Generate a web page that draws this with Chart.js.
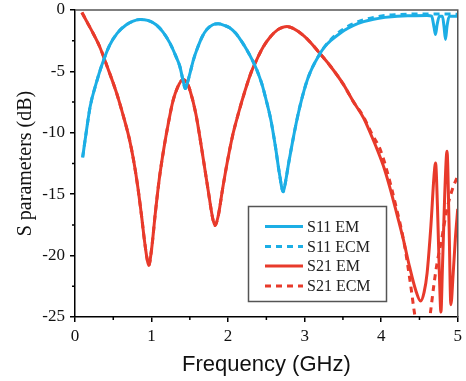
<!DOCTYPE html>
<html>
<head>
<meta charset="utf-8">
<script src="https://cdn.jsdelivr.net/npm/chart.js@4.4.1/dist/chart.umd.min.js"></script>
<style>
  body { margin: 0; background: #fff; }
  canvas { display: block; }
</style>
</head>
<body>
<canvas id="sChart" width="466" height="381"></canvas>
<script>
// Frequency (GHz) and S parameters (dB)
const s11Freq = [0.10, 0.15, 0.20, 0.28, 0.35, 0.45, 0.55, 0.67, 0.76, 0.85, 0.95, 1.06, 1.15, 1.24, 1.32, 1.37, 1.41, 1.44, 1.47, 1.50, 1.55, 1.60, 1.66, 1.72, 1.80, 1.87, 1.95, 2.02, 2.10, 2.17, 2.24, 2.31, 2.37, 2.44, 2.50, 2.56, 2.62, 2.67, 2.72, 2.75, 2.79, 2.84, 2.89, 2.94, 2.99, 3.04, 3.10, 3.18, 3.26, 3.34, 3.42, 3.52, 3.64, 3.77, 3.90, 4.05, 4.21, 4.40, 4.60, 4.66, 4.69, 4.71, 4.73, 4.76, 4.80, 4.82, 4.84, 4.86, 4.89, 5.00];
const s11Em = [-12.0, -9.8, -7.8, -5.9, -4.5, -2.9, -1.9, -1.2, -0.9, -0.77, -0.85, -1.2, -1.8, -2.7, -3.8, -4.6, -5.7, -6.4, -5.9, -5.2, -4.0, -3.1, -2.2, -1.6, -1.2, -1.12, -1.25, -1.45, -1.9, -2.5, -3.2, -4.0, -4.8, -6.0, -7.4, -9.0, -11.2, -13.3, -14.8, -14.0, -12.5, -10.8, -9.2, -7.8, -6.6, -5.6, -4.7, -3.76, -3.0, -2.5, -2.1, -1.65, -1.25, -0.95, -0.75, -0.6, -0.5, -0.47, -0.45, -0.5, -1.4, -2.0, -1.2, -0.5, -0.5, -1.3, -2.4, -1.3, -0.5, -0.5];
// ECM follows EM below 3.3 GHz, then this tail
const s11EcmFreq = [3.42, 3.52, 3.64, 3.77, 3.90, 4.05, 4.21, 4.40, 4.60, 4.80, 5.00];
const s11Ecm = [-1.95, -1.5, -1.1, -0.8, -0.6, -0.45, -0.38, -0.33, -0.32, -0.32, -0.35];

const s21Freq = [0.09, 0.15, 0.22, 0.32, 0.42, 0.54, 0.63, 0.71, 0.77, 0.82, 0.87, 0.91, 0.94, 0.963, 1.00, 1.05, 1.10, 1.16, 1.22, 1.28, 1.34, 1.41, 1.46, 1.50, 1.58, 1.66, 1.74, 1.80, 1.83, 1.87, 1.93, 1.98, 2.06, 2.14, 2.22, 2.30, 2.37, 2.46, 2.55, 2.65, 2.72, 2.77, 2.85, 2.99, 3.10, 3.18, 3.34, 3.50, 3.64, 3.77, 3.87, 3.95, 4.04, 4.12, 4.20, 4.29, 4.37, 4.45, 4.515, 4.56, 4.60, 4.65, 4.69, 4.71, 4.735, 4.76, 4.78, 4.80, 4.83, 4.86, 4.885, 4.91, 4.94, 4.97, 5.00];
const s21Em = [-0.2, -0.9, -1.7, -2.95, -4.6, -6.7, -8.6, -10.5, -12.4, -14.4, -16.8, -18.9, -20.2, -20.8, -19.5, -16.5, -13.8, -11.3, -9.2, -7.4, -6.3, -5.66, -5.9, -6.5, -8.5, -11.5, -14.7, -17.0, -17.55, -16.8, -14.5, -12.7, -10.2, -8.3, -6.6, -5.1, -4.1, -3.0, -2.2, -1.6, -1.4, -1.35, -1.5, -2.1, -2.8, -3.4, -4.6, -6.0, -7.5, -8.8, -10.2, -11.4, -12.9, -14.6, -16.5, -18.7, -20.9, -22.8, -23.7, -23.0, -21.4, -17.5, -13.5, -12.45, -16.0, -21.5, -24.6, -21.0, -15.0, -11.5, -17.0, -24.0, -21.5, -18.5, -16.2];
// ECM follows EM below 3.7 GHz, then this tail
const s21EcmFreq = [3.77, 3.87, 3.99, 4.08, 4.17, 4.30, 4.38, 4.44, 4.50, 4.56, 4.60, 4.64, 4.69, 4.73, 4.78, 4.86, 4.93, 5.00];
const s21Ecm = [-8.7, -10.0, -11.4, -13.2, -15.4, -19.0, -22.2, -24.9, -27.0, -27.5, -26.5, -24.8, -22.3, -20.6, -19.0, -16.2, -14.6, -13.5];

const xTicks = [0, 1, 2, 3, 4, 5];
const yTicks = [-25, -20, -15, -10, -5, 0];

const BLUE = "#1caee5";
const RED = "#e83a2b";

function toPoints(freq, vals) {
    return freq.map((f, i) => ({ x: f, y: vals[i] }));
}

function withTail(freq, vals, tailFreq, tailVals) {
    const start = tailFreq[0];
    const head = toPoints(freq, vals).filter(p => p.x < start - 0.1);
    return head.concat(toPoints(tailFreq, tailVals));
}

const s11EmPts = toPoints(s11Freq, s11Em);
const s11EcmPts = withTail(s11Freq, s11Em, s11EcmFreq, s11Ecm);
const s21EmPts = toPoints(s21Freq, s21Em);
const s21EcmPts = withTail(s21Freq, s21Em, s21EcmFreq, s21Ecm);

// frame, minor ticks and inset legend
const decorPlugin = {
    id: "decor",
    afterDatasetsDraw(chart) {
        const ctx = chart.ctx;
        const area = chart.chartArea;
        const xs = chart.scales.x;
        const ys = chart.scales.y;
        ctx.save();

        // top and right frame
        ctx.strokeStyle = "#555";
        ctx.lineWidth = 1.5;
        ctx.beginPath();
        ctx.moveTo(area.left, area.top);
        ctx.lineTo(area.right, area.top);
        ctx.lineTo(area.right, area.bottom);
        ctx.stroke();

        // minor ticks
        ctx.strokeStyle = "#000";
        ctx.lineWidth = 1.5;
        ctx.beginPath();
        for (let i = 0; i < xTicks.length - 1; i++) {
            const px = xs.getPixelForValue((xTicks[i] + xTicks[i + 1]) / 2);
            ctx.moveTo(px, area.bottom);
            ctx.lineTo(px, area.bottom + 3);
        }
        for (let i = 0; i < yTicks.length - 1; i++) {
            const py = ys.getPixelForValue((yTicks[i] + yTicks[i + 1]) / 2);
            ctx.moveTo(area.left, py);
            ctx.lineTo(area.left - 3, py);
        }
        ctx.stroke();

        // legend
        const box = { left: 248.5, top: 206.5, right: 386.5, bottom: 301.5 };
        ctx.fillStyle = "#fff";
        ctx.fillRect(box.left, box.top, box.right - box.left, box.bottom - box.top);
        ctx.strokeStyle = "#555";
        ctx.lineWidth = 1.5;
        ctx.strokeRect(box.left, box.top, box.right - box.left, box.bottom - box.top);

        const rows = [226.5, 246.5, 266, 286];
        ctx.font = "16px 'Liberation Serif'";
        ctx.textBaseline = "middle";
        ctx.textAlign = "left";
        chart.data.datasets.forEach((ds, i) => {
            const y = rows[i];
            ctx.strokeStyle = ds.borderColor;
            ctx.lineWidth = 3;
            ctx.setLineDash(ds.borderDash || []);
            ctx.beginPath();
            ctx.moveTo(265, y);
            ctx.lineTo(303, y);
            ctx.stroke();
            ctx.setLineDash([]);
            ctx.fillStyle = "#222";
            ctx.fillText(ds.label, 307, y + 1);
        });
        ctx.restore();
    }
};

const ctx = document.getElementById("sChart").getContext("2d");
new Chart(ctx, {
    type: "line",
    data: {
        datasets: [
            { label: "S11 EM", data: s11EmPts, borderColor: BLUE, borderWidth: 3 },
            { label: "S11 ECM", data: s11EcmPts, borderColor: BLUE, borderWidth: 3, borderDash: [6, 5] },
            { label: "S21 EM", data: s21EmPts, borderColor: RED, borderWidth: 3 },
            { label: "S21 ECM", data: s21EcmPts, borderColor: RED, borderWidth: 3, borderDash: [6, 5] }
        ]
    },
    options: {
        responsive: false,
        animation: false,
        devicePixelRatio: 1,
        layout: { padding: { top: 10, right: 8, left: 0, bottom: 0 } },
        elements: {
            point: { radius: 0 },
            line: { cubicInterpolationMode: "monotone", fill: false }
        },
        plugins: {
            legend: { display: false },
            tooltip: { enabled: false }
        },
        scales: {
            x: {
                type: "linear",
                min: 0,
                max: 5,
                afterFit(scale) { scale.height = 64; },
                afterBuildTicks(scale) { scale.ticks = xTicks.map(v => ({ value: v })); },
                grid: { drawOnChartArea: false, drawTicks: true, tickLength: 5, color: "#000", lineWidth: 1.5 },
                border: { display: true, color: "#000", width: 1.5 },
                ticks: { font: { family: "'Liberation Serif'", size: 17 }, color: "#111", padding: 4, maxRotation: 0 },
                title: {
                    display: true,
                    text: "Frequency (GHz)",
                    font: { family: "'Liberation Sans'", size: 22 },
                    color: "#111",
                    padding: { top: 0, bottom: 3 }
                }
            },
            y: {
                min: -25,
                max: 0,
                afterFit(scale) { scale.width = 75; scale.paddingTop = 0; },
                afterBuildTicks(scale) { scale.ticks = yTicks.map(v => ({ value: v })); },
                grid: { drawOnChartArea: false, drawTicks: true, tickLength: 5, color: "#000", lineWidth: 1.5 },
                border: { display: true, color: "#000", width: 1.5 },
                ticks: { font: { family: "'Liberation Serif'", size: 17 }, color: "#111", padding: 5 },
                title: {
                    display: true,
                    text: "S parameters (dB)",
                    font: { family: "'Liberation Serif'", size: 20 },
                    color: "#111",
                    padding: { top: 14, bottom: 0 }
                }
            }
        }
    },
    plugins: [decorPlugin]
});
</script>
</body>
</html>
